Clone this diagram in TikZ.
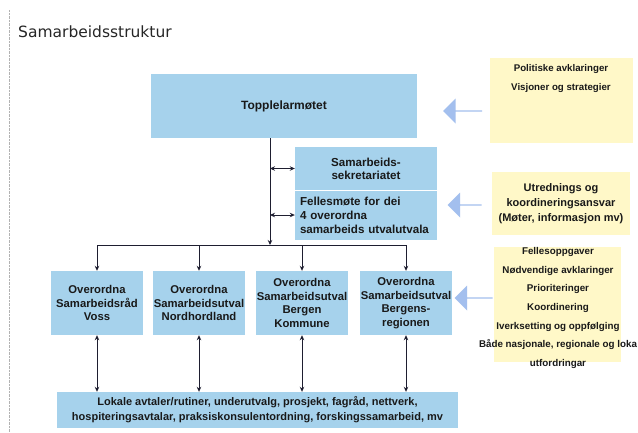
\documentclass[tikz,border=0pt]{standalone}
\usepackage{fontspec}
\setmainfont{Liberation Sans}
\newfontfamily\titelfont{DejaVu Sans}
\usepackage{tikz}
\usetikzlibrary{shapes.arrows,arrows.meta}

\definecolor{boksblaa}{HTML}{A6D2EC}
\definecolor{boksgul}{HTML}{FFF8C8}
\definecolor{pilblaa}{HTML}{A3BFEE}
\definecolor{strek}{HTML}{1E1E30}

\tikzset{
  blaaboks/.style={fill=boksblaa, inner sep=0pt, align=center, text=black!90,
    font=\bfseries\fontsize{11.3}{13.5}\selectfont},
  gulboks/.style={fill=boksgul, inner sep=0pt, align=center, text=black!90},
  pil/.style={single arrow, fill=pilblaa, inner sep=0pt, minimum width=25pt,
    single arrow head extend=4pt, shape border rotate=180},
  linje/.style={draw=strek, line width=.9pt, >={Stealth[length=5pt,width=4.5pt]}}
}

\begin{document}
\begin{tikzpicture}[x=1pt,y=-1pt]
\useasboundingbox (0,0) rectangle (638,432);
\fill[white] (0,0) rectangle (638,432);
\draw[gray!60, densely dotted] (9,10) -- (9,432);
\node[anchor=base west, inner sep=0pt, text=black!85,
  font=\titelfont\fontsize{15.5}{18}\selectfont] (titel) at (18,37) {Samarbeidsstruktur};

% blaa boksar
\node[blaaboks, minimum width=266pt, minimum height=64pt,
  font=\bfseries\fontsize{12}{14}\selectfont] (topp) at (284,106) {Topplelarmøtet};
\node[blaaboks, minimum width=142pt, minimum height=43pt,
  font=\bfseries\fontsize{11.6}{13}\selectfont] (sekr) at (366,168.5) {Samarbeids-\\sekretariatet};
\node[blaaboks, minimum width=142pt, minimum height=50pt, align=left, text width=132pt,
  font=\bfseries\fontsize{11.6}{14}\selectfont] (felles) at (366,215) {Fellesmøte for dei\\4 overordna\\samarbeids utvalutvala};
\draw[white, line width=1pt] (sekr.south west) -- (sekr.south east);

\node[blaaboks, minimum width=92pt, minimum height=64pt] (mid1) at (97,303) {Overordna\\Samarbeidsråd\\Voss};
\node[blaaboks, minimum width=92pt, minimum height=64pt] (mid2) at (199,303) {Overordna\\Samarbeidsutval\\Nordhordland};
\node[blaaboks, minimum width=92pt, minimum height=64pt] (mid3) at (302,303) {Overordna\\Samarbeidsutval\\Bergen\\Kommune};
\node[blaaboks, minimum width=92pt, minimum height=64pt] (mid4) at (406,303) {Overordna\\Samarbeidsutval\\Bergens-\\regionen};

\node[blaaboks, minimum width=401pt, minimum height=36pt,
  font=\bfseries\fontsize{11}{15}\selectfont] (lokal) at (257.5,410)
  {Lokale avtaler/rutiner, underutvalg, prosjekt, fagråd, nettverk,\\hospiteringsavtalar, praksiskonsulentordning, forskingssamarbeid, mv};

% gule boksar
\node[gulboks, minimum width=143pt, minimum height=85pt] (gul1) at (561.5,100.5) {};
\node[gulboks, fill=none, font=\bfseries\fontsize{9.7}{19}\selectfont] (tekst1) at (561,79)
  {Politiske avklaringer\\Visjoner og strategier};
\node[gulboks, minimum width=138pt, minimum height=63pt,
  font=\bfseries\fontsize{11}{15}\selectfont] (gul2) at (561,203.5)
  {Utrednings og\\koordineringsansvar\\(Møter, informasjon mv)};
\node[gulboks, minimum width=127pt, minimum height=115pt] (gul3) at (557.5,304.5) {};
\node[gulboks, fill=none, font=\bfseries\fontsize{9.8}{18.7}\selectfont] (tekst3) at (558,308)
  {Fellesoppgaver\\Nødvendige avklaringer\\Prioriteringer\\Koordinering\\Iverksetting og oppfølging\\Både nasjonale, regionale og loka\\utfordringar};

% piler
\node[pil, minimum height=39pt] (pil1) at (463,111) {};
\node[pil, minimum height=34pt] (pil2) at (465,205) {};
\node[pil, minimum height=38pt] (pil3) at (474,298) {};

% samband
\coordinate (stamme) at (270,138);
\coordinate (grein) at (270,245);
\draw[linje,->] (stamme) -- (grein);
\draw[linje,<->] (stamme |- sekr.west) -- (sekr.west);
\draw[linje,<->] (stamme |- felles.west) -- (felles.west);
\draw[linje] (mid1.north |- grein) -- (mid4.north |- grein);
\foreach \i in {1,...,4} {
  \draw[linje,->] (mid\i.north |- grein) -- (mid\i.north);
  \draw[linje,<->] (mid\i.south) -- (mid\i.south |- lokal.north);
}
\end{tikzpicture}
\end{document}
